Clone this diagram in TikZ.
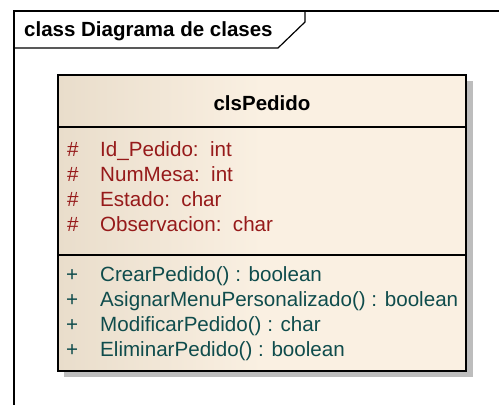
\documentclass[tikz,border=0pt]{standalone}
\usepackage{fontspec}
\setmainfont{Liberation Sans}
\usetikzlibrary{positioning}
\definecolor{marco}{HTML}{000000}
\definecolor{crema}{HTML}{FAF0E2}
\definecolor{cremaosc}{HTML}{E9DDCB}
\definecolor{sombra}{HTML}{BDBDBD}
\definecolor{atrib}{HTML}{961A1A}
\definecolor{metod}{HTML}{0F4C4C}

\begin{document}
\begin{tikzpicture}[x=1pt,y=-1pt,line join=miter,
    texto/.style={font=\fontsize{20.6}{24}\selectfont,anchor=base west,inner sep=0pt},
    titulo/.style={texto,font=\fontsize{20.5}{24}\selectfont\bfseries},
    caja/.style={draw=marco,line width=2pt,left color=cremaosc,right color=crema,
                 middle color=crema,minimum width=408pt,minimum height=296pt,inner sep=0pt}]
  \useasboundingbox (0,0) rectangle (499,405);
  % marco del diagrama
  \draw[line width=1.2pt] (14,405) -- (14,11) -- (499,11);
  \draw[line width=1.2pt] (305,11) -- (305,22) -- (278,48) -- (14,48);
  \node[titulo] (marco) at (24,36) {class Diagrama de clases};
  % clase
  \fill[sombra] (64,81) rectangle (473,377);
  \node[caja] (pedido) at (262,223) {};
  \coordinate (div1w) at (58,127);  \coordinate (div1e) at (466,127);
  \coordinate (div2w) at (58,255);  \coordinate (div2e) at (466,255);
  \draw[line width=1.2pt] (div1w) -- (div1e);
  \draw[line width=1.2pt] (div2w) -- (div2e);
  \node[titulo,anchor=base] (nombre) at (262,110.5) {clsPedido};
  % atributos
  \foreach \txt [count=\i] in {Id\_Pedido:~~int,NumMesa:~~int,Estado:~~char,Observacion:~~char}{
    \node[texto,atrib] (vis\i) at (67,{156+25*(\i-1)}) {\#};
    \node[texto,atrib] (atr\i) at (100,{156+25*(\i-1)}) {\txt};
  }
  % operaciones
  \foreach \txt [count=\i] in {CrearPedido() : boolean,AsignarMenuPersonalizado() : boolean,
                               ModificarPedido() : char,EliminarPedido() : boolean}{
    \node[texto,metod] (pub\i) at (66,{281+25.3*(\i-1)}) {+};
    \node[texto,metod] (op\i) at (100,{281+25.3*(\i-1)}) {\txt};
  }
\end{tikzpicture}
\end{document}
